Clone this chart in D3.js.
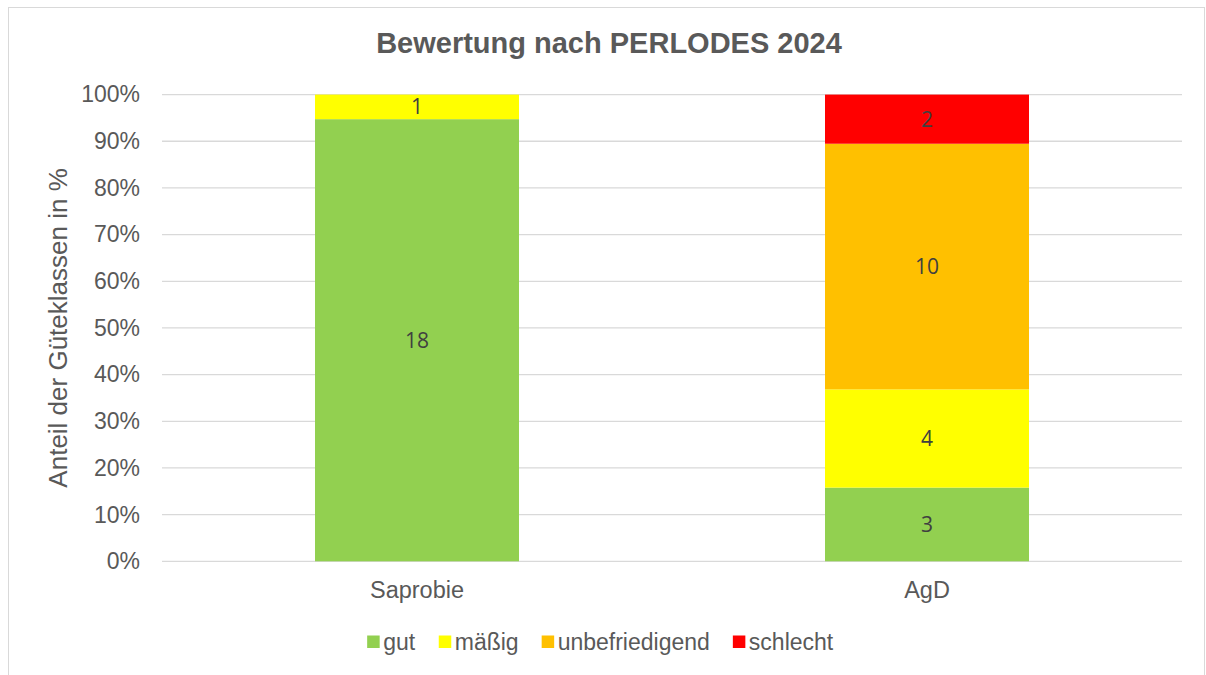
<!DOCTYPE html>
<html>
<head>
<meta charset="utf-8">
<script src="https://cdn.jsdelivr.net/npm/d3@7"></script>
<style>
  body { margin: 0; background: #fff; }
  svg { display: block; font-family: "Liberation Sans", Arial, sans-serif; }
</style>
</head>
<body>
<div id="chart"></div>
<script>
// Data
const categories = ['Saprobie', 'AgD']
const classes = ['gut', 'mäßig', 'unbefriedigend', 'schlecht']
const colors = ['#92d050', '#ffff00', '#ffc000', '#ff0000']
const gut = [18, 3]
const maessig = [1, 4]
const unbefriedigend = [0, 10]
const schlecht = [0, 2]
const yTicks = [0, 0.1, 0.2, 0.3, 0.4, 0.5, 0.6, 0.7, 0.8, 0.9, 1]

const series = [gut, maessig, unbefriedigend, schlecht]
const rows = categories.map((c, i) => {
    const row = { category: c }
    classes.forEach((k, j) => { row[k] = series[j][i] })
    return row
})

// SVG Node
const width = 1206
const height = 675
const svg = d3.select('#chart').append('svg')
    .attr('width', width)
    .attr('height', height)

// chart frame
svg.append('rect')
    .attr('x', 8.5).attr('y', 7.5)
    .attr('width', 1196).attr('height', 680)
    .attr('fill', '#fff')
    .attr('stroke', '#d9d9d9')

// Presentation
const margin = { top: 94.6, right: 24, bottom: 113.7, left: 162 }
const chartWidth = width - margin.left - margin.right
const chartHeight = height - margin.top - margin.bottom

// Scale
const x = d3.scaleBand()
    .domain(categories)
    .range([0, chartWidth])
    .paddingInner(0.6)
    .paddingOuter(0.3)
const y = d3.scaleLinear()
    .domain([0, 1])
    .range([chartHeight, 0])

const stack = d3.stack()
    .keys(classes)
    .offset(d3.stackOffsetExpand)
const stacked = stack(rows)

const g = svg.append('g')
    .attr('transform', `translate(${margin.left}, ${margin.top})`)

// Grid
g.append('g')
    .selectAll('line')
    .data(yTicks)
    .join('line')
    .attr('x1', 0)
    .attr('x2', chartWidth)
    .attr('y1', d => y(d))
    .attr('y2', d => y(d))
    .attr('stroke', '#d9d9d9')
    .attr('stroke-width', 1.3)

// Y axis labels
const yAxis = d3.axisLeft(y)
    .tickValues(yTicks)
    .tickFormat(d3.format('.0%'))
    .tickSize(0)
    .tickPadding(22)
g.append('g')
    .call(yAxis)
    .call(a => a.select('.domain').remove())
    .selectAll('text')
    .attr('font-size', 23)
    .attr('fill', '#595959')
    .attr('font-family', '"Liberation Sans", Arial, sans-serif')

// X axis labels
const xAxis = d3.axisBottom(x)
    .tickSize(0)
    .tickPadding(20)
g.append('g')
    .attr('transform', `translate(0, ${chartHeight})`)
    .call(xAxis)
    .call(a => a.select('.domain').remove())
    .selectAll('text')
    .attr('font-size', 23.5)
    .attr('fill', '#595959')
    .attr('font-family', '"Liberation Sans", Arial, sans-serif')

// Bars
const layers = g.append('g')
    .selectAll('g.layer')
    .data(stacked)
    .join('g')
    .attr('class', 'layer')
    .attr('fill', (d, i) => colors[i])

layers.selectAll('rect')
    .data(d => d.map(p => Object.assign(p, { key: d.key })))
    .join('rect')
    .attr('x', d => x(d.data.category))
    .attr('width', x.bandwidth())
    .attr('y', d => y(d[1]))
    .attr('height', d => y(d[0]) - y(d[1]))

// Data labels
layers.selectAll('text')
    .data(d => d.filter(p => p.data[d.key] > 0))
    .join('text')
    .attr('x', d => x(d.data.category) + x.bandwidth() / 2)
    .attr('y', d => (y(d[0]) + y(d[1])) / 2)
    .attr('dy', '0.36em')
    .attr('text-anchor', 'middle')
    .attr('font-size', 21)
    .attr('font-family', '"Open Sans", "Noto Sans", sans-serif')
    .attr('fill', '#404040')
    .text(d => d.data[d.key])

// Title
svg.append('text')
    .attr('x', 609)
    .attr('y', 53)
    .attr('text-anchor', 'middle')
    .attr('font-size', 29)
    .attr('font-weight', 'bold')
    .attr('fill', '#595959')
    .text('Bewertung nach PERLODES 2024')

// Y axis title
svg.append('text')
    .attr('transform', `translate(67, ${margin.top + chartHeight / 2}) rotate(-90)`)
    .attr('text-anchor', 'middle')
    .attr('font-size', 26)
    .attr('fill', '#595959')
    .text('Anteil der Güteklassen in %')

// Legend
const legend = svg.append('g')
const items = legend.selectAll('g')
    .data(classes)
    .join('g')
items.append('rect')
    .attr('width', 12.5)
    .attr('height', 12.5)
    .attr('y', -12.5)
    .attr('fill', (d, i) => colors[i])
items.append('text')
    .attr('x', 16)
    .attr('y', 0)
    .attr('dy', '0.1em')
    .attr('font-size', 23)
    .attr('fill', '#595959')
    .text(d => d)
let offset = 0
items.each(function() {
    d3.select(this).attr('transform', `translate(${offset}, 0)`)
    offset += this.getBBox().width + 23
})
const legendWidth = offset - 23
legend.attr('transform', `translate(${600.5 - legendWidth / 2}, 648)`)
</script>
</body>
</html>
